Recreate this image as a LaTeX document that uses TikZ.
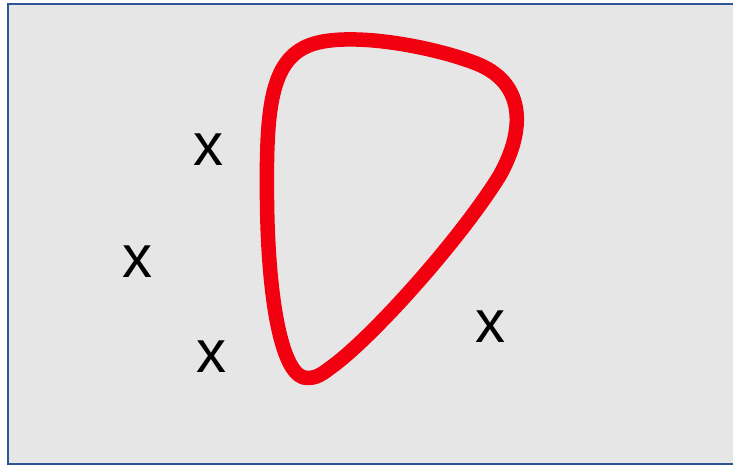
\documentclass[tikz,border=0pt]{standalone}
\usepackage{fontspec}
\setmainfont{Liberation Sans}
\definecolor{panelgray}{RGB}{230,230,230}
\definecolor{frameblue}{RGB}{47,85,151}
\definecolor{loopred}{RGB}{242,0,16}

\begin{document}
\begin{tikzpicture}[x=1pt, y=-1pt,
  mark x/.style={inner sep=0pt, font=\fontsize{60}{72}\selectfont}]

\useasboundingbox (0, 0) rectangle (733, 467);
\clip (0, 0) rectangle (733, 467);

\draw[frameblue, line width=2.5pt, fill=panelgray] (8, 4) rectangle (760, 464);

\draw[loopred, line width=14.5pt, line join=round]
    (308, 378) .. controls (282, 380) and (268, 300) .. (267, 200)
    .. controls (266, 110) and (270, 60) .. (310, 45)
    .. controls (350, 30) and (440, 48) .. (480, 65)
    .. controls (525, 85) and (525, 130) .. (500, 175)
    .. controls (460, 240) and (370, 340) .. (330, 368)
    .. controls (320, 376) and (314, 378) .. (308, 378) -- cycle;

\node[mark x] (xa) at (208, 150) {x};
\node[mark x] (xb) at (137, 262) {x};
\node[mark x] (xc) at (211, 357) {x};
\node[mark x] (xd) at (490, 327) {x};
\end{tikzpicture}
\end{document}
